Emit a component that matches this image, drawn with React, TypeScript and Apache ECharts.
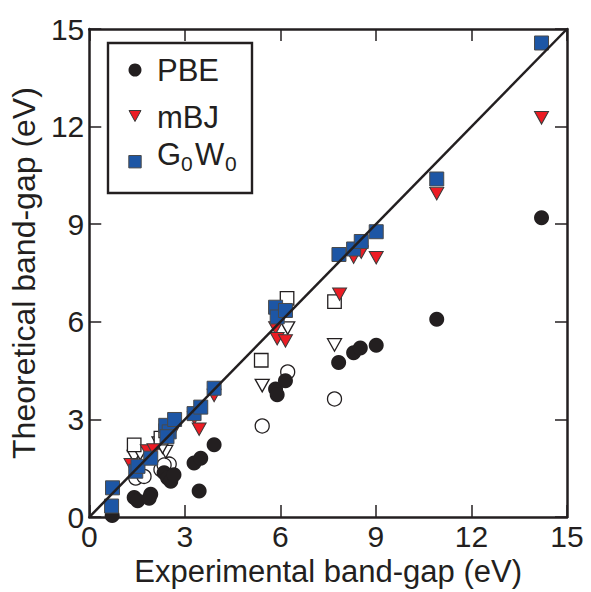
import React, { useEffect, useRef } from "react";
import * as echarts from "echarts";

// Experimental vs theoretical band gaps (eV)
const pbeData: [number, number][] = [
  [0.72, 0.05], [1.41, 0.6], [1.52, 0.5], [1.93, 0.7], [1.88, 0.58],
  [2.35, 1.36], [2.46, 1.2], [2.56, 1.1], [2.66, 1.3], [3.29, 1.66],
  [3.5, 1.81], [3.92, 2.22], [3.45, 0.8], [5.85, 3.94], [5.9, 3.76],
  [6.16, 4.19], [7.83, 4.75], [8.3, 5.05], [8.51, 5.2], [9.01, 5.28],
  [10.91, 6.08], [14.2, 9.2],
];
const mbjData: [number, number][] = [
  [1.31, 1.61], [1.82, 2.03], [2.03, 2.06], [2.55, 2.6], [2.68, 2.73],
  [3.3, 3.05], [3.45, 2.7], [3.92, 3.74], [5.85, 5.81], [5.9, 5.48],
  [6.16, 5.41], [7.86, 6.85], [8.3, 7.99], [8.54, 8.14], [9.01, 7.97],
  [10.91, 9.94], [14.2, 12.27],
];
const gwData: [number, number][] = [
  [0.7, 0.34], [0.73, 0.9], [1.46, 1.41], [1.53, 1.56], [1.93, 1.81],
  [2.4, 2.82], [2.51, 2.62], [2.44, 2.47], [2.68, 3.0], [3.29, 3.18],
  [3.5, 3.38], [3.92, 3.96], [5.85, 6.45], [5.9, 6.15], [6.16, 6.35],
  [7.84, 8.07], [8.3, 8.24], [8.54, 8.47], [9.01, 8.77], [10.91, 10.39],
  [14.2, 14.57],
];
const openCircleData: [number, number][] = [
  [1.46, 1.2], [1.72, 1.25], [2.25, 1.46], [2.51, 1.63], [2.35, 1.6],
  [5.43, 2.8], [6.23, 4.46], [7.7, 3.63],
];
const openTriangleData: [number, number][] = [
  [1.41, 1.86], [1.6, 1.95], [2.19, 2.27], [2.4, 2.01], [2.3, 2.15],
  [5.43, 4.04], [6.23, 5.81], [7.7, 5.29],
];
const openSquareData: [number, number][] = [
  [1.41, 2.22], [2.25, 2.43], [2.4, 2.65], [5.4, 4.82], [6.21, 6.72],
  [7.7, 6.62],
];
const parityLine: [number, number][] = [[0, 0], [15, 15]];
const axisTicks = [0, 3, 6, 9, 12, 15];

const INK = "#231f20";
const RED = "#ec1c24";
const BLUE = "#1d56a5";
const FONT = "'Liberation Sans', Arial, Helvetica, sans-serif";
const TRI = "path://M0,0L10,0L5,9Z";

export default function App() {
  const ref = useRef<HTMLDivElement>(null);
  useEffect(() => {
    const chart = echarts.init(ref.current!, null, { renderer: "svg" });
    const baseAxis = {
      type: "value" as const,
      min: axisTicks[0],
      max: axisTicks[axisTicks.length - 1],
      interval: 3,
      splitLine: { show: false },
      axisLine: { show: true, onZero: false, lineStyle: { color: INK, width: 2.5 } },
      axisTick: { show: true, inside: true, length: 12, lineStyle: { color: INK, width: 1.5 } },
    };
    const openStyle = { color: "#fff", borderColor: INK, borderWidth: 1.3, opacity: 1 };
    const option: any = {
      animation: false,
      grid: { left: 88, right: 24, top: 29, bottom: 69 },
      xAxis: [
        {
          ...baseAxis,
          position: "bottom",
          name: "Experimental band-gap (eV)",
          nameLocation: "middle",
          nameGap: 31,
          nameTextStyle: { fontSize: 31, color: INK, fontFamily: FONT },
          axisLabel: { fontSize: 30, color: INK, fontFamily: FONT, margin: 4 },
        },
        { ...baseAxis, position: "top", axisLabel: { show: false } },
      ],
      yAxis: [
        {
          ...baseAxis,
          position: "left",
          name: "Theoretical band-gap (eV)",
          nameLocation: "middle",
          nameGap: 28,
          nameTextStyle: { fontSize: 32, color: INK, fontFamily: FONT },
          axisLabel: { fontSize: 30, color: INK, fontFamily: FONT, margin: 5 },
        },
        { ...baseAxis, position: "right", axisLabel: { show: false } },
      ],
      series: [
        { type: "scatter", name: "open-circle", data: openCircleData, symbol: "circle", symbolSize: 14, itemStyle: openStyle },
        { type: "scatter", name: "open-triangle", data: openTriangleData, symbol: TRI, symbolSize: [14, 12.5], itemStyle: openStyle },
        { type: "scatter", name: "open-square", data: openSquareData, symbol: "rect", symbolSize: 13.5, itemStyle: openStyle },
        {
          type: "scatter", name: "PBE", data: pbeData, symbol: "circle", symbolSize: 15,
          itemStyle: { color: INK, opacity: 1 },
        },
        {
          type: "scatter", name: "mBJ", data: mbjData, symbol: TRI, symbolSize: [14, 12.5],
          itemStyle: { color: RED, borderColor: "#3a3a3a", borderWidth: 1, opacity: 1 },
        },
        {
          type: "scatter", name: "G0W0", data: gwData, symbol: "rect", symbolSize: 14,
          itemStyle: { color: BLUE, borderColor: "#4a4a4a", borderWidth: 1, opacity: 1 },
        },
        {
          type: "line", data: parityLine, symbol: "none", silent: true,
          lineStyle: { color: INK, width: 2.5 },
        },
      ],
      graphic: [
        { type: "rect", shape: { x: 108, y: 43, width: 144, height: 150 }, style: { fill: "#fff", stroke: INK, lineWidth: 2.4 }, z: 100 },
        { type: "circle", shape: { cx: 135, cy: 70, r: 6.5 }, style: { fill: INK }, z: 101 },
        { type: "polygon", shape: { points: [[129, 110.5], [141, 110.5], [135, 121.5]] }, style: { fill: RED, stroke: "#3a3a3a", lineWidth: 1 }, z: 101 },
        { type: "rect", shape: { x: 128.8, y: 155.5, width: 12.4, height: 12.4 }, style: { fill: BLUE, stroke: "#4a4a4a", lineWidth: 1 }, z: 101 },
        { type: "text", x: 157, y: 70, style: { text: "PBE", fontSize: 31, fontFamily: FONT, fill: INK, verticalAlign: "middle" }, z: 101 },
        { type: "text", x: 157, y: 117.5, style: { text: "mBJ", fontSize: 31, fontFamily: FONT, fill: INK, verticalAlign: "middle" }, z: 101 },
        { type: "text", x: 157, y: 154, style: { text: "G", fontSize: 31, fontFamily: FONT, fill: INK, verticalAlign: "middle" }, z: 101 },
        { type: "text", x: 181, y: 163.5, style: { text: "0", fontSize: 21, fontFamily: FONT, fill: INK, verticalAlign: "middle" }, z: 101 },
        { type: "text", x: 195, y: 154, style: { text: "W", fontSize: 31, fontFamily: FONT, fill: INK, verticalAlign: "middle" }, z: 101 },
        { type: "text", x: 225, y: 163.5, style: { text: "0", fontSize: 21, fontFamily: FONT, fill: INK, verticalAlign: "middle" }, z: 101 },
      ],
    };
    chart.setOption(option);
    return () => chart.dispose();
  }, []);
  return (
    <div
      ref={ref}
      style={{ position: "absolute", left: 0, top: 0, width: 591, height: 592, background: "#fff" }}
    />
  );
}
